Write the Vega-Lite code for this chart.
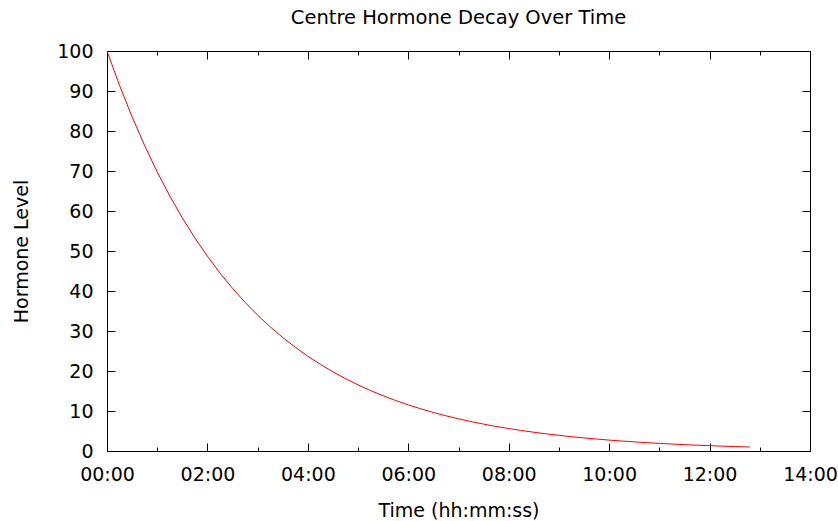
{
  "$schema": "https://vega.github.io/schema/vega-lite/v6.json",
  "width": 703,
  "height": 400,
  "autosize": "none",
  "padding": {"left": 107, "top": 51, "right": 28, "bottom": 70},
  "background": "white",
  "title": {
    "text": "Centre Hormone Decay Over Time",
    "font": "DejaVu Sans",
    "fontSize": 19.5,
    "fontWeight": "normal",
    "color": "#000000",
    "offset": 14
  },
  "config": {
    "view": {"stroke": "#000000", "strokeWidth": 1},
    "axis": {
      "domain": false,
      "grid": false,
      "labelFont": "DejaVu Sans",
      "labelFontSize": 19,
      "labelColor": "#000000",
      "tickColor": "#000000",
      "tickWidth": 1,
      "titleFont": "DejaVu Sans",
      "titleFontSize": 19,
      "titleFontWeight": "normal",
      "titleColor": "#000000"
    }
  },
  "data": {
    "values": [
      {"hours": 0, "level": 100},
      {"hours": 0.25, "level": 91.39},
      {"hours": 0.5, "level": 83.53},
      {"hours": 0.75, "level": 76.34},
      {"hours": 1, "level": 69.77},
      {"hours": 1.25, "level": 63.76},
      {"hours": 1.5, "level": 58.27},
      {"hours": 1.75, "level": 53.26},
      {"hours": 2, "level": 48.68},
      {"hours": 2.25, "level": 44.49},
      {"hours": 2.5, "level": 40.66},
      {"hours": 2.75, "level": 37.16},
      {"hours": 3, "level": 33.96},
      {"hours": 3.25, "level": 31.04},
      {"hours": 3.5, "level": 28.37},
      {"hours": 3.75, "level": 25.93},
      {"hours": 4, "level": 23.69},
      {"hours": 4.25, "level": 21.66},
      {"hours": 4.5, "level": 19.79},
      {"hours": 4.75, "level": 18.09},
      {"hours": 5, "level": 16.53},
      {"hours": 5.25, "level": 15.11},
      {"hours": 5.5, "level": 13.81},
      {"hours": 5.75, "level": 12.62},
      {"hours": 6, "level": 11.53},
      {"hours": 6.25, "level": 10.54},
      {"hours": 6.5, "level": 9.63},
      {"hours": 6.75, "level": 8.8},
      {"hours": 7, "level": 8.05},
      {"hours": 7.25, "level": 7.35},
      {"hours": 7.5, "level": 6.72},
      {"hours": 7.75, "level": 6.14},
      {"hours": 8, "level": 5.61},
      {"hours": 8.25, "level": 5.13},
      {"hours": 8.5, "level": 4.69},
      {"hours": 8.75, "level": 4.29},
      {"hours": 9, "level": 3.92},
      {"hours": 9.25, "level": 3.58},
      {"hours": 9.5, "level": 3.27},
      {"hours": 9.75, "level": 2.99},
      {"hours": 10, "level": 2.73},
      {"hours": 10.25, "level": 2.5},
      {"hours": 10.5, "level": 2.28},
      {"hours": 10.75, "level": 2.09},
      {"hours": 11, "level": 1.91},
      {"hours": 11.25, "level": 1.74},
      {"hours": 11.5, "level": 1.59},
      {"hours": 11.75, "level": 1.46},
      {"hours": 12, "level": 1.33},
      {"hours": 12.25, "level": 1.22},
      {"hours": 12.5, "level": 1.11},
      {"hours": 12.75, "level": 1.02},
      {"hours": 12.8, "level": 1.0}
    ]
  },
  "layer": [
    {
      "mark": {"type": "line", "color": "#ff0000", "strokeWidth": 1},
      "encoding": {
        "x": {
          "field": "hours",
          "type": "quantitative",
          "scale": {"domain": [0, 14], "nice": false, "zero": false},
          "axis": {
            "orient": "bottom",
            "values": [0, 1, 2, 3, 4, 5, 6, 7, 8, 9, 10, 11, 12, 13, 14],
            "labelExpr": "datum.value % 2 ? '' : (datum.value < 10 ? '0' : '') + datum.value + ':00'",
            "tickSize": {"condition": {"test": "datum.value % 2", "value": -4}, "value": -8},
            "labelPadding": 22,
            "labelFlush": false,
            "labelOverlap": false,
            "title": "Time (hh:mm:ss)",
            "titlePadding": 13
          }
        },
        "y": {
          "field": "level",
          "type": "quantitative",
          "scale": {"domain": [0, 100], "nice": false},
          "axis": {
            "orient": "left",
            "values": [0, 10, 20, 30, 40, 50, 60, 70, 80, 90, 100],
            "tickSize": -8,
            "labelPadding": 22,
            "labelFlush": false,
            "labelOverlap": false,
            "title": "Hormone Level",
            "titlePadding": 25
          }
        }
      }
    },
    {
      "mark": {"type": "line", "opacity": 0},
      "encoding": {
        "x": {
          "field": "hours",
          "type": "quantitative",
          "scale": {"domain": [0, 14], "nice": false, "zero": false},
          "axis": {
            "orient": "top",
            "values": [0, 1, 2, 3, 4, 5, 6, 7, 8, 9, 10, 11, 12, 13, 14],
            "labels": false,
            "tickSize": {"condition": {"test": "datum.value % 2", "value": -4}, "value": -8},
            "title": null
          }
        },
        "y": {
          "field": "level",
          "type": "quantitative",
          "scale": {"domain": [0, 100], "nice": false},
          "axis": {
            "orient": "right",
            "values": [0, 10, 20, 30, 40, 50, 60, 70, 80, 90, 100],
            "labels": false,
            "tickSize": -8,
            "title": null
          }
        }
      }
    }
  ],
  "resolve": {"axis": {"x": "independent", "y": "independent"}}
}
